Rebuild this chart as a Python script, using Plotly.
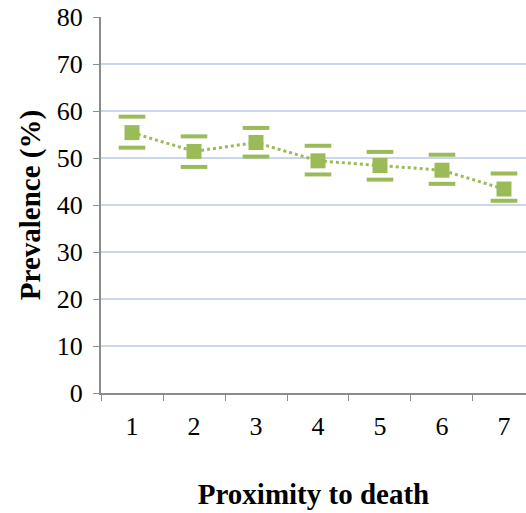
import plotly.graph_objects as go

categories = [1, 2, 3, 4, 5, 6, 7]
prevalence = [55.4, 51.4, 53.3, 49.4, 48.4, 47.4, 43.4]
upper_ci = [58.8, 54.6, 56.4, 52.6, 51.3, 50.7, 46.7]
lower_ci = [52.2, 48.1, 50.3, 46.5, 45.4, 44.5, 40.9]
y_ticks = [0, 10, 20, 30, 40, 50, 60, 70, 80]

green = "#9BBB59"
font_family = "Liberation Serif"

fig = go.Figure()
fig.add_trace(go.Scatter(
    x=categories, y=prevalence, mode="lines+markers",
    line=dict(color=green, width=3, dash="dot"),
    marker=dict(symbol="square", size=15, color=green),
    showlegend=False,
))
for vals in (upper_ci, lower_ci):
    fig.add_trace(go.Scatter(
        x=categories, y=vals, mode="markers",
        marker=dict(symbol="line-ew", size=19, line=dict(color=green, width=4)),
        showlegend=False,
    ))

fig.update_layout(
    width=526, height=513,
    margin=dict(l=101, r=0, t=17, b=120),
    paper_bgcolor="white", plot_bgcolor="white",
    font=dict(family=font_family, size=26, color="black"),
    xaxis=dict(
        range=[0.5, 7.355], tickvals=categories, ticktext=[str(c) for c in categories],
        ticks="", showgrid=False, zeroline=False,
        showline=True, linecolor="#8c8c8c", linewidth=2,
        ticklabelstandoff=9,
        minor=dict(tickvals=[0.5, 1.5, 2.5, 3.5, 4.5, 5.5, 6.5], ticks="outside",
                   ticklen=6, tickwidth=1, tickcolor="#8c8c8c", showgrid=False),
        title=dict(text="<b>Proximity to death</b>", font=dict(size=29), standoff=43),
    ),
    yaxis=dict(
        range=[0, 80], tickvals=y_ticks, ticks="outside", ticklen=6, tickwidth=1,
        tickcolor="#8c8c8c", showline=True, linecolor="#8c8c8c", linewidth=2,
        showgrid=True, gridcolor="#C9D6EC", gridwidth=1.5, zeroline=False,
        ticklabelstandoff=5,
        title=dict(text="<b>Prevalence (%)</b>", font=dict(size=29), standoff=8),
    ),
)

fig.write_html("out.html")
